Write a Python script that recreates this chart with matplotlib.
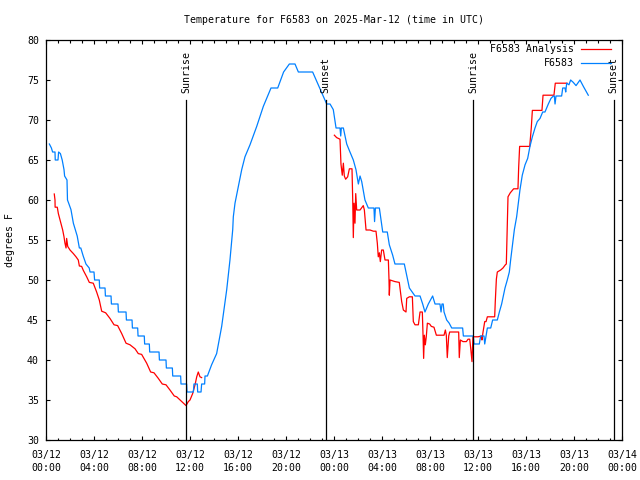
import numpy as np
import matplotlib
matplotlib.use("Agg")
import matplotlib.pyplot as plt
from matplotlib.ticker import MultipleLocator

# ---------------- data (hours since 03/12 00:00 UTC, deg F) ----------------
obs_hours = [0.28, 0.45, 0.55, 0.75, 0.77, 1.0, 1.05, 1.2, 1.35, 1.5, 1.55, 1.75, 1.79, 1.89,
             2.08, 2.28, 2.44, 2.6, 2.78, 2.9, 3.1, 3.33, 3.6, 3.67, 4.0, 4.05, 4.44, 4.47,
             4.92, 4.95, 5.42, 5.45, 6.0, 6.03, 6.67, 6.7, 7.17, 7.2, 7.64, 7.67, 8.19, 8.22,
             8.61, 8.64, 9.42, 9.45, 10.0, 10.03, 10.53, 10.56, 11.22, 11.25, 11.72, 11.75,
             12.28, 12.33, 12.61, 12.64, 12.92, 12.97, 13.22, 13.25, 13.45, 13.8, 14.22,
             14.64, 15.06, 15.33, 15.56, 15.61, 15.75, 16.03, 16.31, 16.58, 17.0, 17.56,
             18.11, 18.75, 19.31, 19.8, 20.28, 20.75, 21.03, 22.22, 22.69, 23.25, 23.39,
             23.67, 23.94, 24.17, 24.5, 24.56, 24.61, 24.78, 25.06, 25.33, 25.61, 25.83,
             26.03, 26.17, 26.31, 26.58, 26.86, 27.33, 27.38, 27.45, 27.61, 27.78, 28.06,
             28.44, 28.61, 28.89, 29.08, 29.86, 30.06, 30.28, 30.75, 31.17, 31.39, 31.58,
             31.86, 32.22, 32.42, 32.83, 32.92, 33.0, 33.1, 33.17, 33.39, 33.6, 33.81,
             34.72, 34.78, 35.61, 35.67, 36.11, 36.22, 36.5, 36.56, 36.67, 36.78, 37.06,
             37.22, 37.61, 37.78, 37.97, 38.11, 38.25, 38.44, 38.61, 38.72, 38.89, 39.03,
             39.22, 39.36, 39.5, 39.69, 39.92, 40.14, 40.33, 40.53, 40.75, 40.94, 41.17,
             41.39, 41.58, 41.86, 42.08, 42.28, 42.36, 42.42, 42.5, 42.97, 43.06, 43.25,
             43.31, 43.39, 43.58, 43.72, 43.94, 44.17, 44.5, 44.78, 45.19]
obs_temps = [67, 66.5, 66, 66, 65, 65, 66, 65.8, 65, 63.8, 63, 62.5, 60, 59.6,
             58.8, 57.1, 56.3, 55.5, 54, 54, 53, 52, 51.5, 51, 51, 50, 50, 49,
             49, 48, 48, 47, 47, 46, 46, 45, 45, 44, 44, 43, 43, 42,
             42, 41, 41, 40, 40, 39, 39, 38, 38, 37, 37, 36,
             36, 37, 37, 36, 36, 37, 37, 38, 38, 39.4, 40.8,
             44.2, 48.8, 52.5, 56.3, 57.9, 59.6, 61.7, 63.8, 65.4, 66.9, 69.2,
             71.7, 74, 74, 76, 77, 77, 76, 76, 74.4, 72.5, 72,
             72, 71.3, 69, 69, 68, 69, 69, 67, 66, 65, 63.8,
             62, 63, 62.3, 60, 59, 59, 57.3, 59, 59, 59, 56,
             56, 54.4, 53.1, 52, 52, 50.6, 49, 48, 48, 47, 46,
             47, 48, 47, 47, 46, 47, 47, 46, 45, 44.6, 44,
             44, 43, 43, 42, 42, 43, 43, 42, 43, 44, 44,
             45, 45, 46, 47, 48, 49, 50, 51, 52.5, 54.6, 56.3,
             57.9, 59.6, 61.3, 63.1, 64.4, 65.2, 66.7, 67.9, 69, 69.8, 70.2,
             71, 71, 72, 72.7, 73, 73, 72, 73, 73, 74, 74,
             73.5, 74.6, 74.4, 75, 74.7, 74.3, 75, 74.2, 73.1]

ana_hours = [0.69, 0.75, 0.76, 0.94, 1.03, 1.17, 1.31, 1.39, 1.5, 1.58, 1.67, 1.72, 1.81,
             2.0, 2.28, 2.5, 2.69, 2.78, 2.97, 3.11, 3.39, 3.61, 3.94, 4.22, 4.44, 4.64,
             4.97, 5.33, 5.67, 5.97, 6.31, 6.67, 7.0, 7.42, 7.69, 7.97, 8.39, 8.72, 9.0,
             9.36, 9.69, 10.0, 10.33, 10.69, 10.89, 11.31, 11.67, 11.86, 12.0, 12.22,
             12.42, 12.56, 12.69, 12.83, 12.97,
             np.nan,
             24.03, 24.22, 24.5, 24.58, 24.69, 24.78, 24.86, 24.97, 25.14, 25.28, 25.5,
             25.56, 25.61, 25.67, 25.75, 25.81, 25.89, 26.17, 26.44, 26.53, 26.67, 27.0,
             27.28, 27.5, 27.61, 27.69, 27.78, 27.86, 27.97, 28.11, 28.25, 28.53, 28.58,
             28.61, 28.67, 29.08, 29.44, 29.56, 29.64, 29.78, 30.0, 30.06, 30.28, 30.53,
             30.61, 30.75, 31.03, 31.17, 31.36, 31.42, 31.47, 31.53, 31.61, 31.69, 31.78,
             31.97, 32.11, 32.33, 32.53, 33.17, 33.28, 33.36, 33.44, 33.56, 33.64, 34.39,
             34.44, 34.53, 34.75, 35.03, 35.17, 35.31, 35.39, 35.5, 35.58, 36.0, 36.28,
             36.33, 36.42, 36.56, 36.67, 36.78, 37.39, 37.44, 37.53, 37.61, 37.89, 38.08,
             38.28, 38.36, 38.42, 38.5, 38.69, 38.97, 39.33, 39.39, 39.47, 40.31, 40.44,
             40.53, 41.33, 41.42, 42.33, 42.44, 43.42]
ana_temps = [60.75, 60, 59.1, 59.1, 58.3, 57.5, 56.7, 56.25, 55.4, 54.6, 54.0, 55.2, 54.2,
             53.75, 53.3, 52.9, 52.5, 51.75, 51.7, 51.2, 50.4, 49.7, 49.6, 48.5, 47.5, 46.1,
             45.9, 45.2, 44.4, 44.3, 43.3, 42.1, 41.9, 41.4, 40.8, 40.7, 39.6, 38.5, 38.4,
             37.7, 37.0, 36.9, 36.25, 35.5, 35.4, 34.8, 34.3, 34.8, 35.0, 35.8,
             36.9, 37.9, 38.5, 37.9, 37.8,
             np.nan,
             68.1, 67.8, 67.6, 64.5, 63.1, 64.6, 63.0, 62.6, 62.9, 63.9, 63.9,
             60.0, 55.3, 59.6, 57.1, 60.8, 58.75, 58.75, 59.3, 58.75, 56.25, 56.25,
             56.1, 56.1, 54.6, 52.9, 53.4, 52.3, 53.75, 53.75, 52.5, 52.5, 50.2,
             48.1, 50.0, 49.8, 49.7, 48.3, 47.3, 46.25, 46.0, 47.7, 47.9, 47.9,
             44.8, 44.4, 44.4, 46.0, 46.0, 43.1, 40.2, 43.1, 41.9, 42.9, 44.6,
             44.5, 44.2, 44.1, 43.1, 43.1, 43.75, 43.1, 40.3, 43.0, 43.5, 43.5,
             40.3, 42.5, 42.3, 42.3, 42.6, 42.6, 41.5, 39.8, 42.9, 42.9, 43.0,
             42.5, 43.5, 44.8, 44.8, 45.4, 45.4, 47.3, 50.1, 51.0, 51.25, 51.5,
             51.9, 52.0, 55.6, 60.4, 60.9, 61.4, 61.4, 64.1, 66.7, 66.7, 69.0,
             71.2, 71.2, 73.1, 73.1, 74.6, 74.6]

sun_hours = [11.67, 23.3, 35.6, 47.3]
sun_labels = ["Sunrise", "Sunset", "Sunrise", "Sunset"]

tick_hours = list(range(0, 49, 4))
tick_labels = ["03/12\n00:00", "03/12\n04:00", "03/12\n08:00", "03/12\n12:00",
               "03/12\n16:00", "03/12\n20:00", "03/13\n00:00", "03/13\n04:00",
               "03/13\n08:00", "03/13\n12:00", "03/13\n16:00", "03/13\n20:00",
               "03/14\n00:00"]

title = "Temperature for F6583 on 2025-Mar-12 (time in UTC)"
series_names = ["F6583 Analysis", "F6583"]
colors = ["#ff0000", "#0080ff"]

# ---------------- figure ----------------
FONT = "DejaVu Sans Mono"
FS = 7.1
plt.rcParams["font.family"] = [FONT]
plt.rcParams["font.size"] = FS

fig = plt.figure(figsize=(6.4, 4.8), dpi=100)
ax = fig.add_axes([46 / 640, 40 / 480, 576 / 640, 400 / 480])

ax.plot(ana_hours, ana_temps, color=colors[0], lw=0.9, label=series_names[0])
ax.plot(obs_hours, obs_temps, color=colors[1], lw=0.9, label=series_names[1])

for h, lab in zip(sun_hours, sun_labels):
    ax.plot([h, h], [30, 72.5], color="black", lw=0.9)
    ax.text(h, 73.4, lab, rotation=90, ha="center", va="bottom", fontsize=FS)

ax.set_xlim(0, 48)
ax.set_ylim(30, 80)
ax.set_xticks(tick_hours)
ax.set_xticklabels(tick_labels, linespacing=1.45)
ax.xaxis.set_minor_locator(MultipleLocator(1))
ax.yaxis.set_major_locator(MultipleLocator(5))

ax.tick_params(axis="both", which="both", direction="in", top=True, right=True,
               width=0.8, colors="black", labelsize=FS)
ax.tick_params(axis="both", which="major", length=3.2)
ax.tick_params(axis="x", which="minor", length=1.8)
ax.tick_params(axis="x", which="major", pad=7)
ax.tick_params(axis="y", which="major", pad=5)

for s in ax.spines.values():
    s.set_linewidth(0.9)
    s.set_color("black")

ax.set_title(title, fontsize=FS, pad=12)
ax.set_ylabel("degrees F", fontsize=FS, labelpad=9)

ax.legend(loc="upper right", frameon=False, markerfirst=False, fontsize=FS,
          handlelength=3.0, handletextpad=0.8, labelspacing=0.4,
          borderaxespad=0.0, borderpad=0.2,
          bbox_to_anchor=(1 - 9.0 / 576, 1 - 2.5 / 400))

fig.savefig("out.png", dpi=100)
